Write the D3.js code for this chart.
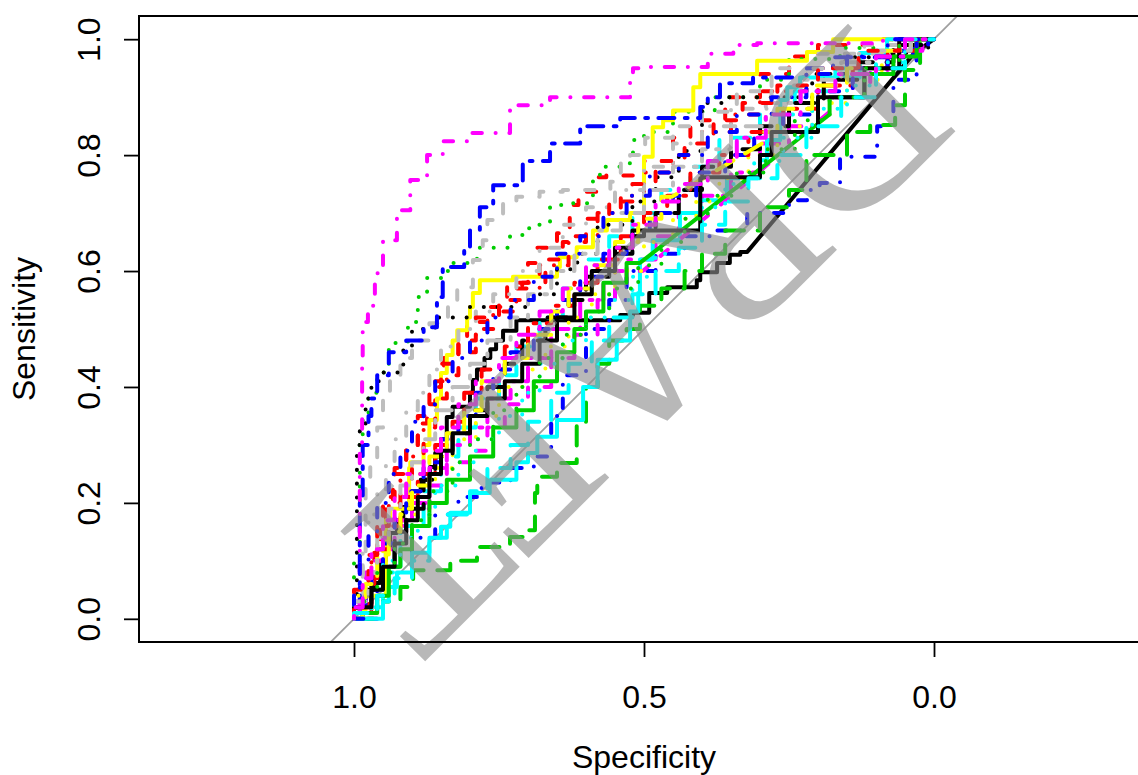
<!DOCTYPE html>
<html>
<head>
<meta charset="utf-8">
<script src="https://cdn.jsdelivr.net/npm/d3@7"></script>
<style>
  body { margin: 0; background: #fff; }
  svg text { font-family: "Liberation Sans", Arial, sans-serif; }
</style>
</head>
<body>
<div id="chart"></div>
<script>
// ROC curves, points are [specificity, sensitivity]
const roc00 = [[1,0],[0.985,0.0],[0.978,0.038],[0.965,0.05],[0.955,0.062],[0.945,0.1],[0.938,0.124],[0.926,0.148],[0.915,0.17],[0.903,0.193],[0.885,0.22],[0.869,0.24],[0.86,0.262],[0.85,0.286],[0.84,0.31],[0.83,0.348],[0.8,0.366],[0.795,0.39],[0.788,0.412],[0.775,0.43],[0.765,0.45],[0.755,0.465],[0.743,0.48],[0.72,0.497],[0.697,0.515],[0.541,0.515],[0.519,0.524],[0.491,0.528],[0.46,0.562],[0.409,0.572],[0.403,0.584],[0.374,0.598],[0.352,0.614],[0.334,0.628],[0.322,0.633],[0.034,0.976],[0,1]];
const roc01 = [[1,0],[0.97,0],[0.965,0.06],[0.955,0.114],[0.945,0.16],[0.933,0.205],[0.91,0.25],[0.89,0.3],[0.874,0.337],[0.86,0.37],[0.845,0.41],[0.82,0.45],[0.805,0.48],[0.77,0.512],[0.736,0.538],[0.7,0.58],[0.684,0.614],[0.65,0.64],[0.628,0.665],[0.613,0.714],[0.58,0.737],[0.565,0.762],[0.5,0.765],[0.45,0.79],[0.42,0.83],[0.36,0.86],[0.3,0.9],[0.25,0.94],[0.2,0.97],[0.167,0.99],[0.1,0.99],[0,1]];
const roc02 = [[1,0],[0.99,0.1],[0.985,0.3],[0.975,0.35],[0.96,0.39],[0.94,0.425],[0.907,0.476],[0.89,0.512],[0.874,0.555],[0.85,0.588],[0.834,0.6],[0.788,0.614],[0.731,0.64],[0.7,0.662],[0.684,0.674],[0.662,0.68],[0.64,0.714],[0.588,0.717],[0.576,0.762],[0.538,0.78],[0.519,0.786],[0.5,0.826],[0.45,0.84],[0.378,0.875],[0.3,0.9],[0.25,0.93],[0.162,0.966],[0.08,0.985],[0,1]];
const roc03 = [[1,0],[0.96,0.0],[0.94,0.05],[0.9,0.09],[0.86,0.14],[0.82,0.18],[0.78,0.21],[0.73,0.235],[0.69,0.26],[0.66,0.28],[0.64,0.35],[0.6,0.42],[0.56,0.5],[0.53,0.55],[0.48,0.6],[0.43,0.63],[0.38,0.66],[0.322,0.67],[0.25,0.7],[0.219,0.722],[0.197,0.74],[0.162,0.752],[0.098,0.797],[0.07,0.85],[0.03,0.93],[0,1]];
const roc04 = [[1,0],[0.95,0.02],[0.92,0.08],[0.88,0.16],[0.85,0.22],[0.82,0.28],[0.79,0.33],[0.75,0.38],[0.72,0.42],[0.68,0.47],[0.64,0.52],[0.6,0.57],[0.56,0.62],[0.52,0.66],[0.47,0.7],[0.42,0.74],[0.37,0.78],[0.3,0.83],[0.24,0.87],[0.17,0.91],[0.1,0.95],[0.04,0.98],[0,1]];
const roc05 = [[1,0],[0.98,0.03],[0.96,0.08],[0.93,0.12],[0.9,0.17],[0.87,0.2],[0.84,0.26],[0.8,0.3],[0.77,0.33],[0.73,0.38],[0.7,0.41],[0.66,0.45],[0.61,0.5],[0.57,0.55],[0.53,0.58],[0.48,0.62],[0.44,0.66],[0.4,0.7],[0.35,0.73],[0.3,0.77],[0.25,0.82],[0.2,0.85],[0.14,0.9],[0.08,0.94],[0.03,0.97],[0,1]];
const roc06 = [[1,0],[0.985,0],[0.98,0.015],[0.945,0.04],[0.938,0.17],[0.905,0.19],[0.903,0.26],[0.88,0.27],[0.87,0.3],[0.857,0.343],[0.85,0.38],[0.84,0.424],[0.83,0.455],[0.822,0.48],[0.805,0.498],[0.8,0.52],[0.795,0.538],[0.783,0.562],[0.726,0.584],[0.65,0.59],[0.645,0.607],[0.616,0.624],[0.588,0.641],[0.564,0.67],[0.524,0.688],[0.5,0.7],[0.485,0.797],[0.467,0.848],[0.45,0.86],[0.415,0.877],[0.403,0.917],[0.305,0.94],[0.219,0.963],[0.174,0.978],[0.064,1],[0,1]];
const roc07 = [[1,0],[0.985,0],[0.98,0.1],[0.972,0.245],[0.96,0.27],[0.95,0.33],[0.938,0.38],[0.92,0.42],[0.9,0.45],[0.87,0.48],[0.838,0.51],[0.822,0.538],[0.795,0.572],[0.778,0.619],[0.77,0.653],[0.743,0.688],[0.72,0.717],[0.68,0.728],[0.64,0.737],[0.558,0.74],[0.54,0.754],[0.524,0.797],[0.498,0.8],[0.45,0.83],[0.4,0.85],[0.34,0.875],[0.28,0.91],[0.2,0.95],[0.12,0.975],[0.05,0.99],[0,1]];
const roc08 = [[1,0],[0.995,0],[0.99,0.3],[0.98,0.33],[0.97,0.38],[0.95,0.41],[0.915,0.425],[0.9,0.47],[0.86,0.5],[0.8,0.52],[0.693,0.538],[0.65,0.56],[0.615,0.603],[0.58,0.63],[0.52,0.68],[0.48,0.72],[0.44,0.762],[0.4,0.807],[0.362,0.89],[0.21,0.9],[0.153,0.94],[0.093,0.969],[0.01,0.976],[0,1]];
const roc09 = [[1,0],[0.97,0.02],[0.96,0.1],[0.94,0.16],[0.92,0.2],[0.9,0.24],[0.88,0.28],[0.86,0.33],[0.84,0.38],[0.82,0.42],[0.79,0.46],[0.76,0.5],[0.72,0.53],[0.68,0.57],[0.63,0.61],[0.58,0.66],[0.54,0.7],[0.5,0.73],[0.45,0.77],[0.4,0.8],[0.35,0.84],[0.3,0.87],[0.22,0.91],[0.15,0.95],[0.08,0.97],[0.03,0.99],[0,1]];
const roc10 = [[1,0],[0.95,0],[0.92,0.03],[0.898,0.055],[0.834,0.084],[0.788,0.1],[0.731,0.124],[0.709,0.141],[0.688,0.153],[0.684,0.217],[0.65,0.245],[0.616,0.269],[0.6,0.34],[0.58,0.4],[0.56,0.44],[0.53,0.48],[0.507,0.5],[0.47,0.54],[0.43,0.57],[0.4,0.6],[0.36,0.63],[0.3,0.67],[0.25,0.71],[0.22,0.74],[0.15,0.8],[0.11,0.84],[0.067,0.852],[0.05,0.886],[0.024,0.947],[0,1]];
const roc11 = [[1,0],[0.99,0],[0.985,0.2],[0.975,0.3],[0.97,0.35],[0.96,0.38],[0.94,0.42],[0.91,0.46],[0.88,0.48],[0.857,0.503],[0.847,0.555],[0.81,0.607],[0.8,0.636],[0.783,0.67],[0.76,0.71],[0.709,0.748],[0.662,0.79],[0.61,0.82],[0.576,0.85],[0.541,0.85],[0.5,0.864],[0.403,0.864],[0.39,0.883],[0.369,0.9],[0.312,0.924],[0.219,0.934],[0.174,0.95],[0.036,0.969],[0.01,0.99],[0,1]];
const roc12 = [[1,0],[0.95,0],[0.94,0.03],[0.926,0.055],[0.9,0.08],[0.87,0.114],[0.85,0.14],[0.834,0.159],[0.8,0.183],[0.766,0.217],[0.72,0.24],[0.7,0.27],[0.684,0.286],[0.65,0.314],[0.605,0.343],[0.58,0.4],[0.547,0.447],[0.524,0.48],[0.51,0.53],[0.507,0.562],[0.485,0.62],[0.438,0.653],[0.403,0.7],[0.357,0.722],[0.3,0.76],[0.288,0.791],[0.265,0.826],[0.253,0.895],[0.231,0.917],[0.128,0.934],[0.081,0.976],[0,1]];
const roc13 = [[1,0],[0.98,0.01],[0.97,0.05],[0.95,0.1],[0.93,0.14],[0.9,0.16],[0.87,0.19],[0.84,0.23],[0.8,0.27],[0.77,0.29],[0.74,0.33],[0.7,0.37],[0.66,0.4],[0.62,0.45],[0.58,0.49],[0.55,0.55],[0.502,0.6],[0.174,0.88],[0.11,0.9],[0.06,0.95],[0.02,0.98],[0,1]];
const roc14 = [[1,0],[0.97,0.04],[0.95,0.09],[0.92,0.13],[0.89,0.18],[0.86,0.22],[0.83,0.26],[0.79,0.31],[0.75,0.35],[0.71,0.4],[0.67,0.43],[0.63,0.47],[0.59,0.52],[0.55,0.56],[0.5,0.6],[0.45,0.65],[0.41,0.69],[0.37,0.72],[0.32,0.76],[0.27,0.8],[0.21,0.85],[0.15,0.89],[0.09,0.93],[0.04,0.97],[0,1]];
const roc15 = [[1,0],[0.985,0.05],[0.975,0.12],[0.96,0.18],[0.945,0.22],[0.93,0.27],[0.91,0.31],[0.89,0.36],[0.87,0.39],[0.85,0.43],[0.82,0.47],[0.79,0.5],[0.76,0.53],[0.72,0.56],[0.68,0.6],[0.64,0.64],[0.6,0.68],[0.55,0.71],[0.5,0.74],[0.45,0.78],[0.4,0.82],[0.35,0.85],[0.28,0.88],[0.22,0.92],[0.15,0.95],[0.08,0.975],[0.03,0.99],[0,1]];
const roc16 = [[1,0],[0.97,0.02],[0.95,0.06],[0.93,0.1],[0.91,0.15],[0.88,0.19],[0.86,0.24],[0.83,0.28],[0.8,0.32],[0.77,0.36],[0.74,0.4],[0.71,0.44],[0.67,0.48],[0.63,0.52],[0.6,0.55],[0.56,0.59],[0.52,0.63],[0.48,0.67],[0.44,0.7],[0.4,0.74],[0.35,0.78],[0.3,0.81],[0.25,0.85],[0.19,0.89],[0.13,0.93],[0.07,0.96],[0.02,0.99],[0,1]];
const roc17 = [[1,0],[0.975,0.02],[0.96,0.07],[0.94,0.12],[0.92,0.16],[0.89,0.21],[0.86,0.25],[0.83,0.3],[0.81,0.34],[0.78,0.39],[0.74,0.43],[0.7,0.47],[0.66,0.51],[0.62,0.54],[0.58,0.58],[0.54,0.62],[0.5,0.66],[0.46,0.7],[0.42,0.73],[0.37,0.77],[0.32,0.8],[0.26,0.84],[0.2,0.88],[0.14,0.92],[0.08,0.95],[0.03,0.98],[0,1]];
const roc18 = [[1,0],[0.96,0.01],[0.94,0.04],[0.92,0.09],[0.9,0.12],[0.87,0.16],[0.84,0.2],[0.8,0.24],[0.76,0.28],[0.72,0.33],[0.69,0.36],[0.65,0.41],[0.62,0.46],[0.6,0.5],[0.57,0.53],[0.53,0.58],[0.507,0.614],[0.18,0.87],[0.12,0.9],[0.07,0.94],[0.03,0.97],[0,1]];
const roc19 = [[1,0],[0.98,0],[0.97,0.04],[0.95,0.08],[0.93,0.13],[0.91,0.18],[0.88,0.22],[0.85,0.27],[0.82,0.31],[0.79,0.35],[0.76,0.39],[0.73,0.43],[0.69,0.46],[0.65,0.5],[0.61,0.55],[0.57,0.59],[0.53,0.63],[0.49,0.66],[0.45,0.7],[0.41,0.73],[0.36,0.77],[0.31,0.8],[0.26,0.84],[0.2,0.87],[0.14,0.91],[0.08,0.95],[0.03,0.98],[0,1]];
const roc20 = [[1,0],[0.97,0.01],[0.95,0.05],[0.92,0.1],[0.89,0.14],[0.86,0.18],[0.82,0.23],[0.79,0.27],[0.75,0.31],[0.71,0.35],[0.68,0.39],[0.64,0.44],[0.6,0.48],[0.56,0.52],[0.52,0.55],[0.48,0.59],[0.44,0.63],[0.4,0.67],[0.36,0.71],[0.31,0.75],[0.26,0.79],[0.21,0.83],[0.15,0.88],[0.1,0.92],[0.05,0.96],[0,1]];
const roc21 = [[1,0],[0.99,0],[0.986,0.3],[0.985,0.45],[0.976,0.512],[0.964,0.54],[0.95,0.596],[0.926,0.653],[0.903,0.705],[0.874,0.757],[0.847,0.8],[0.8,0.824],[0.731,0.838],[0.662,0.886],[0.57,0.9],[0.524,0.9],[0.519,0.93],[0.497,0.95],[0.472,0.952],[0.39,0.952],[0.346,0.975],[0.305,0.99],[0.088,0.993],[0,1]];
const roc22 = [[1,0],[0.98,0.02],[0.96,0.06],[0.94,0.11],[0.92,0.15],[0.9,0.19],[0.87,0.23],[0.84,0.28],[0.81,0.32],[0.78,0.36],[0.74,0.41],[0.7,0.45],[0.66,0.49],[0.63,0.53],[0.59,0.57],[0.55,0.61],[0.51,0.65],[0.47,0.69],[0.452,0.728],[0.295,0.821],[0.27,0.84],[0.21,0.88],[0.15,0.92],[0.09,0.95],[0.04,0.98],[0,1]];
const roc23 = [[1,0],[0.975,0.03],[0.96,0.08],[0.94,0.14],[0.92,0.19],[0.9,0.23],[0.88,0.27],[0.86,0.31],[0.83,0.36],[0.8,0.4],[0.77,0.44],[0.73,0.48],[0.7,0.52],[0.66,0.56],[0.62,0.6],[0.58,0.63],[0.54,0.67],[0.5,0.7],[0.45,0.74],[0.4,0.78],[0.35,0.81],[0.29,0.85],[0.23,0.89],[0.16,0.93],[0.1,0.96],[0.04,0.98],[0,1]];
const roc24 = [[1,0],[0.97,0.02],[0.95,0.05],[0.93,0.09],[0.91,0.13],[0.89,0.17],[0.87,0.21],[0.85,0.25],[0.83,0.29],[0.8,0.32],[0.77,0.35],[0.74,0.38],[0.71,0.41],[0.68,0.44],[0.65,0.48],[0.62,0.52],[0.59,0.56],[0.55,0.6],[0.52,0.64],[0.5,0.66],[0.45,0.67],[0.403,0.67],[0.4,0.76],[0.3,0.762],[0.28,0.8],[0.2,0.84],[0.12,0.9],[0.06,0.95],[0,1]];
const roc25 = [[1,0],[0.975,0.05],[0.96,0.11],[0.95,0.16],[0.93,0.21],[0.91,0.26],[0.89,0.3],[0.87,0.35],[0.85,0.4],[0.82,0.44],[0.79,0.48],[0.75,0.52],[0.71,0.55],[0.67,0.58],[0.64,0.62],[0.6,0.65],[0.56,0.69],[0.52,0.72],[0.48,0.75],[0.43,0.79],[0.38,0.82],[0.33,0.86],[0.27,0.89],[0.2,0.92],[0.13,0.95],[0.06,0.98],[0,1]];
const roc26 = [[1,0],[0.96,0.03],[0.93,0.08],[0.9,0.13],[0.87,0.17],[0.83,0.22],[0.8,0.27],[0.76,0.31],[0.72,0.36],[0.68,0.4],[0.64,0.45],[0.6,0.49],[0.56,0.53],[0.51,0.57],[0.47,0.61],[0.43,0.65],[0.39,0.69],[0.34,0.73],[0.29,0.77],[0.24,0.81],[0.18,0.86],[0.12,0.9],[0.06,0.95],[0,1]];
const roc27 = [[1,0],[0.99,0.05],[0.975,0.1],[0.96,0.15],[0.94,0.2],[0.92,0.25],[0.9,0.29],[0.88,0.34],[0.86,0.37],[0.83,0.41],[0.8,0.45],[0.77,0.48],[0.73,0.52],[0.69,0.55],[0.65,0.59],[0.61,0.63],[0.57,0.66],[0.53,0.7],[0.49,0.73],[0.44,0.77],[0.39,0.8],[0.34,0.84],[0.28,0.87],[0.22,0.9],[0.15,0.94],[0.08,0.97],[0,1]];
const roc28 = [[1,0],[0.96,0.01],[0.93,0.04],[0.9,0.07],[0.87,0.1],[0.84,0.14],[0.8,0.18],[0.77,0.22],[0.73,0.26],[0.7,0.3],[0.66,0.34],[0.63,0.39],[0.59,0.44],[0.56,0.48],[0.52,0.52],[0.48,0.56],[0.44,0.6],[0.4,0.64],[0.36,0.68],[0.32,0.72],[0.27,0.76],[0.22,0.8],[0.16,0.85],[0.1,0.9],[0.05,0.95],[0,1]];
const roc29 = [[1,0],[0.985,0.02],[0.97,0.07],[0.95,0.12],[0.93,0.17],[0.91,0.21],[0.88,0.25],[0.85,0.29],[0.82,0.33],[0.79,0.37],[0.75,0.41],[0.72,0.45],[0.68,0.49],[0.64,0.53],[0.6,0.57],[0.56,0.61],[0.52,0.64],[0.48,0.68],[0.44,0.72],[0.39,0.75],[0.34,0.79],[0.29,0.83],[0.23,0.87],[0.17,0.91],[0.1,0.94],[0.05,0.97],[0,1]];

const curves = [roc00, roc01, roc02, roc03, roc04, roc05, roc06, roc07, roc08, roc09,
                roc10, roc11, roc12, roc13, roc14, roc15, roc16, roc17, roc18, roc19,
                roc20, roc21, roc22, roc23, roc24, roc25, roc26, roc27, roc28, roc29];

// segments joined by a straight line (tied thresholds): [curve, index of end point]
const tiedSegments = [[0, 35], [0, 36], [13, 17], [18, 17], [22, 19]];

const xTicks = [1.0, 0.5, 0.0];
const yTicks = [0.0, 0.2, 0.4, 0.6, 0.8, 1.0];
const watermark = "DRAFT";

// R default palette and line types, recycled by curve index
const palette = ["#000000", "#FF0000", "#00CD00", "#0000FF", "#00FFFF", "#FF00FF", "#FFFF00", "#BEBEBE"];
const ltys = ["solid", "dashed", "dotted", "dotdash", "longdash", "twodash"];

const width = 1138, height = 775;
const box = { left: 139, right: 1149, top: 16, bottom: 642 };
const lw = 4;

const x = d3.scaleLinear().domain([1.3707, -0.3707]).range([box.left, box.right]);
const y = d3.scaleLinear().domain([-0.04, 1.04]).range([box.bottom, box.top]);

function dashFor(lty) {
    const u = 3.3, c = lw * 0.95;
    const on = n => Math.max(0.1, n * u - c), off = n => n * u + c;
    switch (lty) {
        case "dashed": return [on(4), off(4)].join(",");
        case "dotted": return [on(1), off(3)].join(",");
        case "dotdash": return [on(1), off(3), on(4), off(3)].join(",");
        case "longdash": return [on(7), off(3)].join(",");
        case "twodash": return [on(2), off(2), on(6), off(2)].join(",");
        default: return null;
    }
}

const svg = d3.select("#chart").append("svg")
    .attr("width", width)
    .attr("height", height);

svg.append("rect").attr("width", width).attr("height", height).attr("fill", "#fff");

svg.append("clipPath").attr("id", "plotclip")
    .append("rect")
    .attr("x", box.left).attr("y", box.top)
    .attr("width", box.right - box.left).attr("height", box.bottom - box.top);

const plot = svg.append("g").attr("clip-path", "url(#plotclip)");

// chance diagonal
plot.append("line")
    .attr("x1", x(1.5)).attr("y1", y(-0.5))
    .attr("x2", x(-0.5)).attr("y2", y(1.5))
    .attr("stroke", "#a0a0a0")
    .attr("stroke-width", 1.8);

curves.forEach((pts, i) => {
    const tied = new Set(tiedSegments.filter(t => t[0] === i).map(t => t[1]));
    const p = d3.path();
    p.moveTo(x(pts[0][0]), y(pts[0][1]));
    for (let k = 1; k < pts.length; k++) {
        if (!tied.has(k)) p.lineTo(x(pts[k - 1][0]), y(pts[k][1]));
        p.lineTo(x(pts[k][0]), y(pts[k][1]));
    }
    const lty = ltys[i % ltys.length];
    plot.append("path")
        .attr("d", p.toString())
        .attr("fill", "none")
        .attr("stroke", palette[i % palette.length])
        .attr("stroke-width", lw)
        .attr("stroke-linecap", "round")
        .attr("stroke-linejoin", "round")
        .attr("stroke-dasharray", dashFor(lty));
});

// watermark, drawn upside down along the diagonal
svg.append("text")
    .attr("transform", "translate(638,342) rotate(135)")
    .attr("text-anchor", "middle")
    .attr("y", "0.33em")
    .style("font-family", "'Liberation Serif', 'Times New Roman', serif")
    .style("font-size", "232px")
    .attr("fill", "#8c8c8c")
    .attr("fill-opacity", 0.62)
    .text(watermark);

// box
svg.append("rect")
    .attr("x", box.left).attr("y", box.top)
    .attr("width", box.right - box.left).attr("height", box.bottom - box.top)
    .attr("fill", "none")
    .attr("stroke", "#000")
    .attr("stroke-width", 2);

// axes
const xAxis = svg.append("g")
    .attr("transform", `translate(0,${box.bottom})`)
    .call(d3.axisBottom(x).tickValues(xTicks).tickFormat(d3.format(".1f")).tickSize(15).tickSizeOuter(0));
xAxis.select(".domain").remove();
xAxis.selectAll(".tick line").attr("stroke", "#000").attr("stroke-width", 1.8);
xAxis.selectAll(".tick text")
    .attr("y", 0).attr("dy", null)
    .attr("transform", "translate(0,66)")
    .style("font-size", "32px").style("font-family", "'Liberation Sans', Arial, sans-serif")
    .attr("fill", "#000");

const yAxis = svg.append("g")
    .attr("transform", `translate(${box.left},0)`)
    .call(d3.axisLeft(y).tickValues(yTicks).tickFormat(d3.format(".1f")).tickSize(15).tickSizeOuter(0));
yAxis.select(".domain").remove();
yAxis.selectAll(".tick line").attr("stroke", "#000").attr("stroke-width", 1.8);
yAxis.selectAll(".tick text")
    .attr("x", 0).attr("dy", null)
    .attr("text-anchor", "middle")
    .attr("transform", "translate(-39,0) rotate(-90)")
    .style("font-size", "32px").style("font-family", "'Liberation Sans', Arial, sans-serif")
    .attr("fill", "#000");

svg.append("text")
    .attr("x", (x(1) + x(0)) / 2)
    .attr("y", 768)
    .attr("text-anchor", "middle")
    .style("font-size", "32px")
    .text("Specificity");

svg.append("text")
    .attr("transform", `translate(35,${(y(0) + y(1)) / 2}) rotate(-90)`)
    .attr("text-anchor", "middle")
    .style("font-size", "32px")
    .text("Sensitivity");
</script>
</body>
</html>
